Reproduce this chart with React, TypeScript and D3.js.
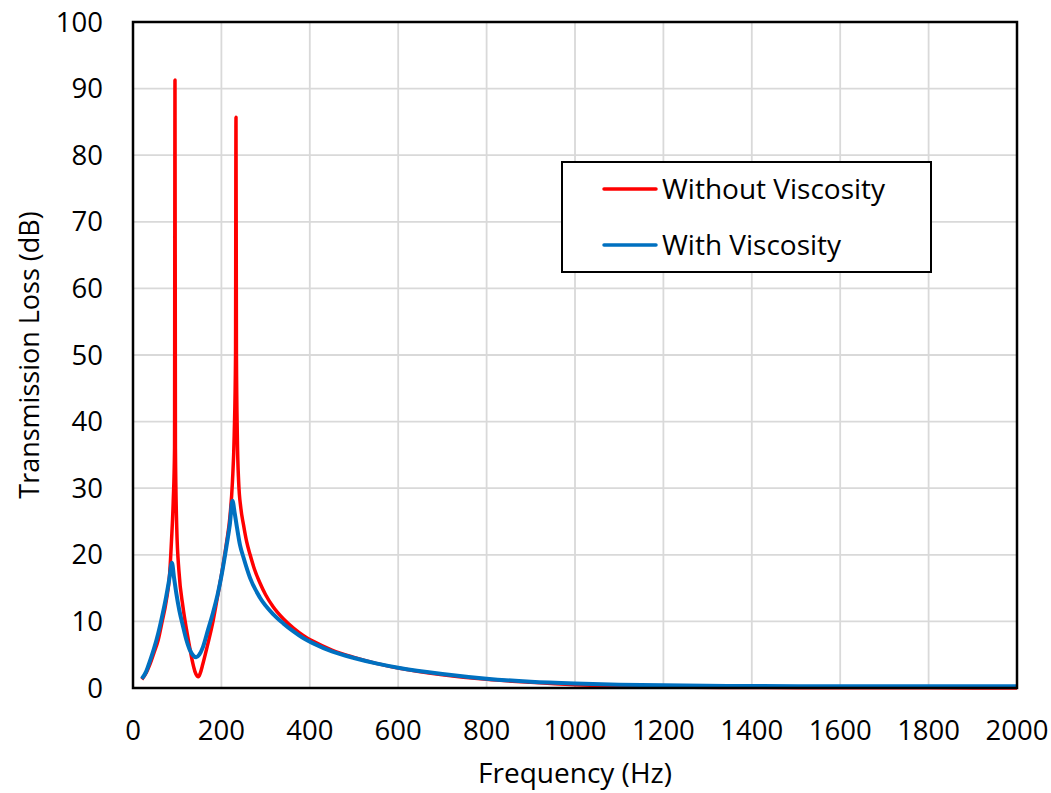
import React from "react";
import * as d3 from "d3";

const freqRed = [20, 30, 38, 47, 57, 66, 75, 83, 87, 91, 94, 95, 96, 99, 104, 113, 121, 128, 135, 140, 145, 148, 152, 158, 170, 181, 192, 204, 212, 219, 225, 229, 232, 233, 234, 236, 239, 244, 250, 257, 265, 275, 287, 300, 317, 340, 363, 385, 408, 450, 500, 550, 600, 700, 800, 900, 1000, 1100, 1200, 1400, 1600, 1800, 2000];
const tlRed = [1.3, 2.3, 3.5, 5.2, 7.2, 10, 13, 17.2, 22, 28, 36, 91.3, 36, 24, 17.5, 12.2, 8.8, 6.2, 3.8, 2.5, 1.8, 1.7, 2.2, 3.6, 6.8, 10, 14, 18.5, 22, 25.5, 31, 38, 50, 85.7, 50, 38, 31, 27, 24.5, 22, 20, 17.8, 15.8, 14.0, 12.2, 10.4, 9.0, 7.9, 7.0, 5.7, 4.6, 3.7, 3.0, 2.0, 1.3, 0.85, 0.5, 0.3, 0.15, 0.07, 0.04, 0.02, 0.01];

const freqBlue = [20, 30, 38, 47, 57, 66, 75, 82, 88, 93, 98, 105, 113, 120, 128, 136, 143, 150, 158, 170, 181, 192, 200, 212, 219, 225, 230, 235, 242, 250, 265, 287, 317, 340, 363, 385, 408, 450, 500, 550, 600, 700, 800, 900, 1000, 1100, 1200, 1400, 1600, 1800, 2000];
const tlBlue = [1.4, 2.5, 4.0, 5.8, 8.2, 10.8, 13.7, 16.3, 18.8, 16.5, 14.2, 11.6, 9.3, 7.4, 5.8, 4.9, 4.6, 5.0, 6.1, 8.8, 11.3, 14.2, 16.8, 21.5, 24.5, 28.1, 26.3, 24.2, 21.5, 19.6, 16.5, 13.6, 11.1, 9.7, 8.5, 7.5, 6.7, 5.5, 4.5, 3.7, 3.05, 2.1, 1.4, 0.95, 0.68, 0.5, 0.4, 0.3, 0.27, 0.25, 0.25];

const xTicks = [0, 200, 400, 600, 800, 1000, 1200, 1400, 1600, 1800, 2000];
const yTicks = [0, 10, 20, 30, 40, 50, 60, 70, 80, 90, 100];

const seriesNames = ["Without Viscosity", "With Viscosity"];
const seriesColors = ["#FF0000", "#0070C0"];

const W = 1051;
const H = 793;
const left = 133;
const right = 1017;
const top = 22;
const bottom = 688;
const FONT = "'Open Sans', sans-serif";

export default function App() {
  const x = d3.scaleLinear().domain([0, 2000]).range([left, right]);
  const y = d3.scaleLinear().domain([0, 100]).range([bottom, top]);
  const line = d3
    .line<[number, number]>()
    .x((d) => x(d[0]))
    .y((d) => y(d[1]))
    .curve(d3.curveMonotoneX);

  const redPts: [number, number][] = freqRed.map((f, i) => [f, tlRed[i]]);
  const bluePts: [number, number][] = freqBlue.map((f, i) => [f, tlBlue[i]]);

  const legX = 562;
  const legY = 162;
  const legW = 369;
  const legH = 110;

  return (
    <svg
      width={W}
      height={H}
      style={{ position: "absolute", left: 0, top: 0, background: "#fff" }}
      fontFamily={FONT}
    >
      <rect x={0} y={0} width={W} height={H} fill="#fff" />
      {xTicks.map((t) => (
        <line key={"gx" + t} x1={x(t)} x2={x(t)} y1={top} y2={bottom} stroke="#d9d9d9" strokeWidth={1.8} />
      ))}
      {yTicks.map((t) => (
        <line key={"gy" + t} x1={left} x2={right} y1={y(t)} y2={y(t)} stroke="#d9d9d9" strokeWidth={1.8} />
      ))}
      <path d={line(redPts) || ""} fill="none" stroke={seriesColors[0]} strokeWidth={3.5} strokeLinejoin="round" />
      <path d={line(bluePts) || ""} fill="none" stroke={seriesColors[1]} strokeWidth={4} strokeLinejoin="round" />
      <rect x={left} y={top} width={right - left} height={bottom - top} fill="none" stroke="#000" strokeWidth={2.5} />
      {xTicks.map((t) => (
        <text key={"tx" + t} x={x(t)} y={740} textAnchor="middle" fontSize={27.5} fill="#000">
          {t}
        </text>
      ))}
      {yTicks.map((t) => (
        <text key={"ty" + t} x={103} y={y(t)} dy="0.35em" textAnchor="end" fontSize={27.5} fill="#000">
          {t}
        </text>
      ))}
      <text x={(left + right) / 2} y={783} textAnchor="middle" fontSize={28} fill="#000">
        Frequency (Hz)
      </text>
      <text
        transform={`translate(39, 355) rotate(-90)`}
        textAnchor="middle"
        fontSize={27}
        fill="#000"
      >
        Transmission Loss (dB)
      </text>
      <rect x={legX} y={legY} width={legW} height={legH} fill="#fff" stroke="#000" strokeWidth={2} />
      {seriesNames.map((n, i) => (
        <g key={n}>
          <line
            x1={604}
            x2={656}
            y1={189 + i * 56}
            y2={189 + i * 56}
            stroke={seriesColors[i]}
            strokeWidth={3.5}
            strokeLinecap="round"
          />
          <text x={662} y={189 + i * 56} dy="0.35em" fontSize={28} fill="#000">
            {n}
          </text>
        </g>
      ))}
    </svg>
  );
}
